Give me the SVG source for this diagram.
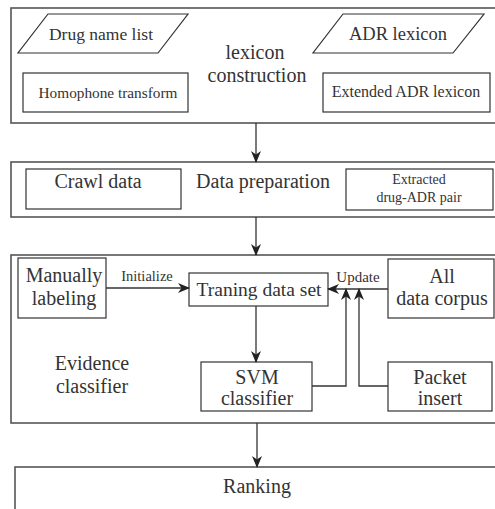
<svg xmlns="http://www.w3.org/2000/svg" width="495" height="509" viewBox="0 0 495 509" font-family="'Liberation Serif', 'Times New Roman', 'DejaVu Serif', serif">
<style>
text{font-family:'Liberation Serif','Times New Roman','DejaVu Serif',serif;fill:#333;text-anchor:middle}
.outer{fill:none;stroke:#555;stroke-width:1.6}
.box{fill:#fff;stroke:#333;stroke-width:1.2}
.c{fill:none;stroke:#333;stroke-width:1.3}
.t20{font-size:20px}
.t15{font-size:15px}
.t14{font-size:14px}
.lbl{font-size:14.5px}
</style>
<defs>
<marker id="ah" viewBox="0 0 12 10" refX="11" refY="5" markerWidth="12" markerHeight="10" markerUnits="userSpaceOnUse" orient="auto">
<path d="M0,0 L12,5 L0,10 L3.5,5 z" fill="#222"/>
</marker>
</defs>
<g id="stage-lexicon">
<rect class="outer" x="11" y="8" width="500" height="115"/>
<text class="t20" x="255" y="59">lexicon</text>
<text class="t20" x="257" y="82">construction</text>
</g>
<g id="drug-name-list">
<polygon class="box" points="48,14 188,14 158,53 18,53"/>
<text style="font-size:17.5px" x="101" y="40">Drug name list</text>
</g>
<g id="adr-lexicon">
<polygon class="box" points="343,14 484,14 453,53 313,53"/>
<text style="font-size:18.5px" x="398" y="40">ADR lexicon</text>
</g>
<g id="homophone-transform">
<rect class="box" x="23" y="73" width="165" height="39"/>
<text style="font-size:15.3px" x="108" y="98">Homophone transform</text>
</g>
<g id="extended-adr-lexicon">
<rect class="box" x="323" y="73" width="167" height="39"/>
<text style="font-size:16px" x="406" y="97">Extended ADR lexicon</text>
</g>
<g id="stage-data-preparation">
<rect class="outer" x="11" y="162" width="500" height="55"/>
<text class="t20" x="263" y="188">Data preparation</text>
</g>
<g id="crawl-data">
<rect class="box" x="26" y="169" width="155" height="40"/>
<text class="t20" x="98" y="188">Crawl data</text>
</g>
<g id="extracted-pair">
<rect class="box" x="346" y="169" width="147" height="41"/>
<text class="t14" x="419" y="184">Extracted</text>
<text class="t14" x="419" y="202">drug-ADR pair</text>
</g>
<g id="stage-evidence-classifier">
<rect class="outer" x="11" y="255" width="500" height="168"/>
<text class="t20" x="92" y="370">Evidence</text>
<text class="t20" x="92" y="393">classifier</text>
</g>
<g id="manually-labeling">
<rect class="box" x="18" y="258" width="88" height="60"/>
<text class="t20" x="64" y="282">Manually</text>
<text class="t20" x="64" y="305">labeling</text>
</g>
<g id="training-data-set">
<rect class="box" x="189" y="273" width="139" height="33"/>
<text style="font-size:19.5px" x="259" y="296">Traning data set</text>
</g>
<g id="all-data-corpus">
<rect class="box" x="388" y="259" width="106" height="59"/>
<text class="t20" x="442" y="283">All</text>
<text class="t20" x="442" y="305">data corpus</text>
</g>
<g id="svm-classifier">
<rect class="box" x="201" y="362" width="111" height="49"/>
<text class="t20" x="257" y="384">SVM</text>
<text class="t20" x="257" y="405">classifier</text>
</g>
<g id="packet-insert">
<rect class="box" x="388" y="362" width="104" height="49"/>
<text class="t20" x="440" y="384">Packet</text>
<text class="t20" x="440" y="405">insert</text>
</g>
<g id="stage-ranking">
<rect class="outer" x="15" y="467" width="500" height="60"/>
<text class="t20" x="257" y="493">Ranking</text>
</g>
<g id="connectors">
<line class="c" x1="256" y1="123" x2="256" y2="162" marker-end="url(#ah)"/>
<line class="c" x1="256" y1="217" x2="256" y2="255" marker-end="url(#ah)"/>
<line class="c" x1="106" y1="288" x2="189" y2="288" marker-end="url(#ah)"/>
<text class="lbl" x="147" y="281">Initialize</text>
<line class="c" x1="388" y1="289" x2="328" y2="289" marker-end="url(#ah)"/>
<text class="t15" x="358" y="282">Update</text>
<line class="c" x1="256" y1="306" x2="256" y2="362" marker-end="url(#ah)"/>
<polyline class="c" points="312,386 346,386 346,289" marker-end="url(#ah)"/>
<polyline class="c" points="388,386 359,386 359,289" marker-end="url(#ah)"/>
<line class="c" x1="257" y1="423" x2="257" y2="467" marker-end="url(#ah)"/>
</g>
</svg>
